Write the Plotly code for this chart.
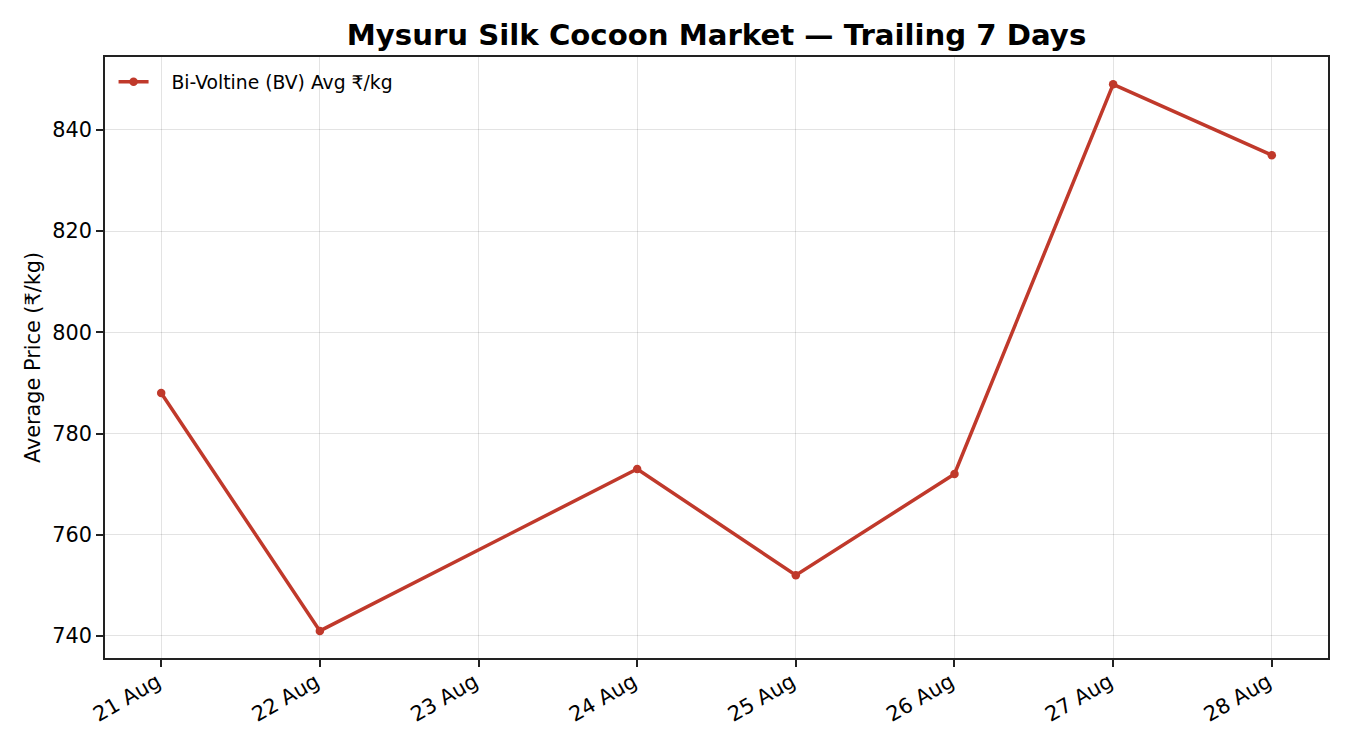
import plotly.graph_objects as go

dates = ["2024-08-21", "2024-08-22", "2024-08-24", "2024-08-25", "2024-08-26", "2024-08-27", "2024-08-28"]
prices = [788, 741, 773, 752, 772, 849, 835]
tick_dates = ["2024-08-21", "2024-08-22", "2024-08-23", "2024-08-24", "2024-08-25", "2024-08-26", "2024-08-27", "2024-08-28"]
tick_labels = ["21 Aug", "22 Aug", "23 Aug", "24 Aug", "25 Aug", "26 Aug", "27 Aug", "28 Aug"]
series_name = "Bi-Voltine (BV) Avg ₹/kg"

color = "#c0392b"
font = "DejaVu Sans"

fig = go.Figure()
fig.add_trace(go.Scatter(
    x=dates, y=prices, mode="lines+markers",
    name="\u00a0\u00a0\u00a0" + series_name,
    line=dict(color=color, width=3.5),
    marker=dict(color=color, size=8.5),
))

fig.update_layout(
    width=1350, height=750,
    margin=dict(l=105, r=22, t=57, b=92),
    paper_bgcolor="white", plot_bgcolor="white",
    font=dict(family=font, size=18.75, color="black"),
    title=dict(text="<b>Mysuru Silk Cocoon Market — Trailing 7 Days</b>",
               x=(105 + 1328) / 2 / 1350, xanchor="center", y=1 - 35 / 750, yanchor="middle",
               font=dict(size=29.2, family=font, color="black")),
    showlegend=True,
    legend=dict(x=0.007, y=0.99, xanchor="left", yanchor="top",
                bgcolor="rgba(255,255,255,0)", borderwidth=0,
                font=dict(size=18.75, family=font)),
    xaxis=dict(
        type="date",
        range=["2024-08-20 15:30", "2024-08-28 08:30"],
        tickvals=tick_dates, ticktext=tick_labels, tickangle=-30,
        ticklabelstandoff=-5, ticklabelshift=-4,
        showgrid=True, gridcolor="rgba(0,0,0,0.11)", gridwidth=1,
        showline=True, linecolor="#222", linewidth=1.7, mirror=True,
        ticks="outside", ticklen=7, tickcolor="#222", tickwidth=1.7,
        tickfont=dict(size=20.8, family=font),
        zeroline=False,
    ),
    yaxis=dict(
        range=[735.65, 854.4],
        tickvals=[740, 760, 780, 800, 820, 840],
        title=dict(text="Average Price (₹/kg)", font=dict(size=20.8, family=font), standoff=6),
        showgrid=True, gridcolor="rgba(0,0,0,0.11)", gridwidth=1,
        showline=True, linecolor="#222", linewidth=1.7, mirror=True,
        ticks="outside", ticklen=7, tickcolor="#222", tickwidth=1.7,
        tickfont=dict(size=20.8, family=font),
        zeroline=False,
    ),
)

fig.write_html("out.html", config={"displayModeBar": False},
               post_script="document.body.style.margin='0';")
